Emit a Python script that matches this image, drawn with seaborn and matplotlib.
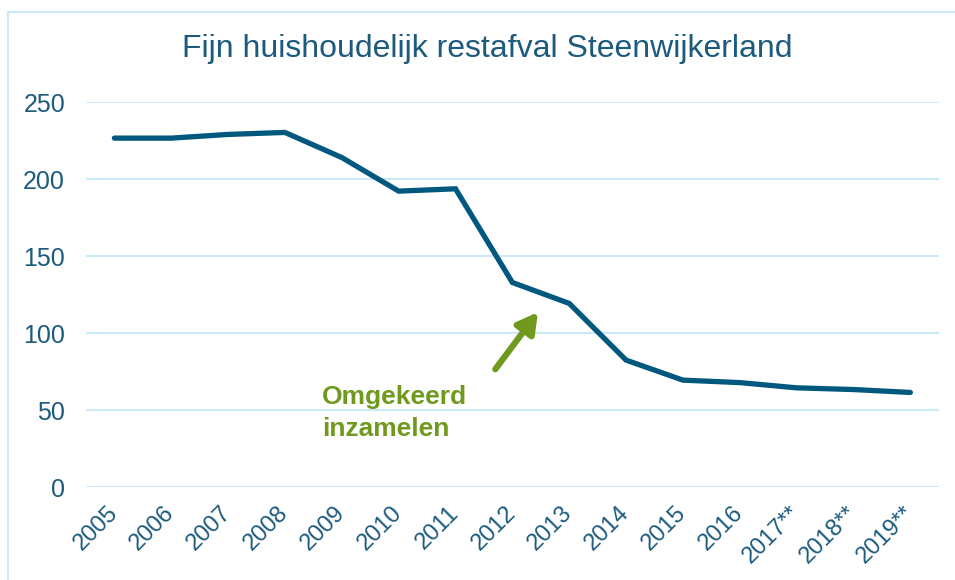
import matplotlib
matplotlib.use("Agg")
import matplotlib.pyplot as plt
import seaborn as sns
import pandas as pd
from matplotlib.patches import Rectangle

# Data
years = ["2005", "2006", "2007", "2008", "2009", "2010", "2011", "2012",
         "2013", "2014", "2015", "2016", "2017**", "2018**", "2019**"]
restafval = [226.6, 226.6, 229.0, 230.3, 214.0, 192.2, 193.7, 132.9,
             119.3, 82.5, 69.5, 67.9, 64.5, 63.4, 61.5]
y_ticks = [0, 50, 100, 150, 200, 250]

title = "Fijn huishoudelijk restafval Steenwijkerland"
note = "Omgekeerd\ninzamelen"

LINE = "#00587F"
TEXT = "#1C5A7E"
GRID = "#CBEAF8"
GREEN = "#6F9A1D"

sns.set_theme(style="white")
plt.rcParams["font.family"] = ["Liberation Sans", "DejaVu Sans"]

df = pd.DataFrame({"jaar": years, "kg": restafval})

fig = plt.figure(figsize=(9.55, 5.8), dpi=100)
ax = fig.add_axes([0.09, 0.160, 0.893, 0.664])

# light blue frame round the chart area (runs off right and bottom)
fig.patches.append(Rectangle((8 / 955, -0.05), 1.2, 1 - 12 / 580 + 0.05,
                             transform=fig.transFigure, fill=False,
                             edgecolor=GRID, linewidth=1.5))

sns.lineplot(data=df, x="jaar", y="kg", ax=ax, color=LINE, linewidth=3.8,
             solid_capstyle="round", solid_joinstyle="miter", sort=False)

ax.set_xlim(-0.5, len(years) - 0.5)
ax.set_ylim(0, 250)
ax.set_yticks(y_ticks)
ax.set_yticklabels([str(t) for t in y_ticks], fontsize=18, color=TEXT)
ax.set_xticks(range(len(years)))
ax.set_xticklabels(years, fontsize=17, color=TEXT, rotation=45,
                   ha="right", va="center", rotation_mode="anchor")
ax.tick_params(axis="both", length=0)
ax.tick_params(axis="y", pad=15)
ax.tick_params(axis="x", pad=16)
ax.set_xlabel("")
ax.set_ylabel("")
for s in ax.spines.values():
    s.set_visible(False)
ax.yaxis.grid(True, color=GRID, linewidth=1.5)
ax.set_axisbelow(True)

# annotation arrow and label
ax.annotate("", xy=(7.45, 113.6), xytext=(6.70, 76.6),
            arrowprops=dict(arrowstyle="-|>,head_length=0.5,head_width=0.28",
                            color=GREEN, lw=4.5, mutation_scale=24,
                            shrinkA=0, shrinkB=0))
ax.text(3.65, 48, note, color=GREEN, fontsize=19, fontweight="bold",
        ha="left", va="center", linespacing=1.4)

fig.text(0.51, 0.915, title, ha="center", va="center", fontsize=23,
         color=TEXT)

fig.savefig("out.png", dpi=100)
